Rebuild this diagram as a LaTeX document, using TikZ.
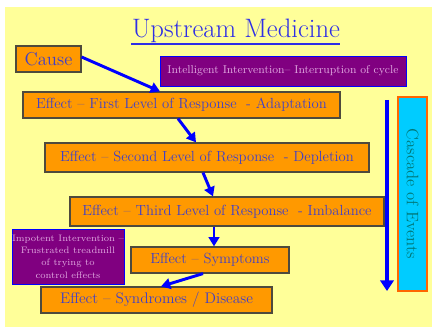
\documentclass[tikz,border=0pt]{standalone}
\usetikzlibrary{arrows.meta,calc}
\definecolor{bgyellow}{HTML}{FFFF99}
\definecolor{boxorange}{HTML}{FF9900}
\definecolor{boxpurple}{HTML}{800080}
\definecolor{boxcyan}{HTML}{00CCFF}
\definecolor{textblue}{HTML}{4040C8}
\definecolor{titleblue}{HTML}{2E2EE6}
\definecolor{textpink}{HTML}{E0A8E0}
\definecolor{textteal}{HTML}{007777}
\tikzset{
  effbox/.style={draw=black!80!yellow,line width=0.9pt,fill=boxorange,text=textblue,font=\fontsize{11}{13}\selectfont,inner sep=0pt},
  purplebox/.style={draw=blue,line width=0.6pt,fill=boxpurple,text=textpink,inner sep=0pt,align=center},
  flowarrow/.style={blue,line width=2.2pt,-{Triangle[length=7pt,width=8pt]}}
}
\begin{document}
\begin{tikzpicture}[x=0.75pt,y=-0.75pt]
\useasboundingbox(0,0)rectangle(432,327);
\fill[bgyellow](5,7)rectangle(432,327);
\node[text=titleblue,font=\fontsize{20}{22}\selectfont](title)at(236,31){Upstream Medicine};
\draw[titleblue,line width=1pt](131,44)--(340,44);

\node[effbox,minimum width=48.75pt,minimum height=19.5pt,font=\fontsize{14}{16}\selectfont](cause)at(48.5,59){Cause};
\node[purplebox,minimum width=184.5pt,minimum height=22.5pt,font=\fontsize{8.5}{10}\selectfont](smart)at(283,71){Intelligent Intervention-- Interruption of cycle};
\node[effbox,minimum width=237.75pt,minimum height=19.5pt](eff1)at(181.5,105){Effect -- First Level of Response \ - Adaptation};
\node[effbox,minimum width=243pt,minimum height=21.75pt](eff2)at(207,157.5){Effect -- Second Level of Response \ - Depletion};
\node[effbox,minimum width=235.5pt,minimum height=21.75pt](eff3)at(227,211.5){Effect -- Third Level of Response \ - Imbalance};
\node[purplebox,minimum width=84pt,minimum height=41.25pt,font=\fontsize{7}{9.2}\selectfont](futile)at(68,256.5){Impotent Intervention --\\Frustrated treadmill\\of trying to\\control effects};
\node[effbox,minimum width=118.5pt,minimum height=19.5pt](symp)at(210,260){Effect -- Symptoms};
\node[effbox,minimum width=173.25pt,minimum height=19.5pt,font=\fontsize{11.5}{13}\selectfont](synd)at(156.5,300){Effect -- Syndromes / Disease};
\node[draw=orange!80!red,line width=1pt,fill=boxcyan,minimum width=21.75pt,minimum height=145.5pt,inner sep=0pt](cascade)at(412.5,194){};
\node[rotate=-90,text=textteal,font=\fontsize{12.5}{14}\selectfont]at(cascade.center){Cascade of Events};

\coordinate(cascadetop)at(387,100);
\coordinate(cascadeend)at(387,291);
\draw[flowarrow,line width=3pt,-{Triangle[length=8pt,width=10pt]}](cascadetop)--(cascadeend);

\draw[flowarrow]($(cause.east)+(0,-2)$)--($(eff1.north)+(-21.5,0)$);
\draw[flowarrow]($(eff1.south)+(-3.5,0)$)--($(eff2.north)+(-11,0)$);
\draw[flowarrow]($(eff2.south)+(-4,0)$)--($(eff3.north)+(-14,0)$);
\draw[flowarrow]($(eff3.south)+(-13,0)$)--($(symp.north)+(4,0)$);
\draw[flowarrow]($(symp.south)+(-7,0)$)--($(synd.north)+(4.5,0)$);
\end{tikzpicture}
\end{document}
